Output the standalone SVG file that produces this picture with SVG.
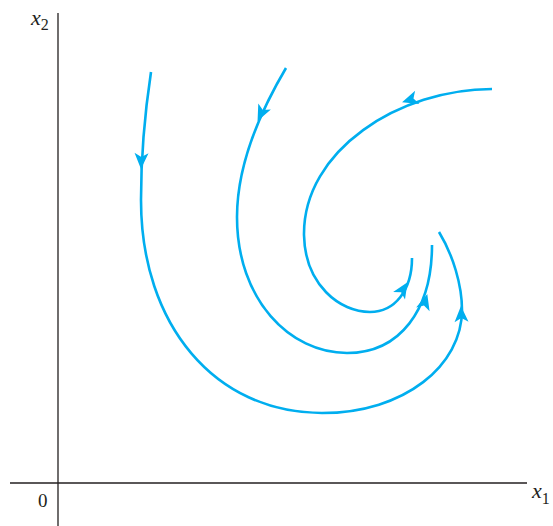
<svg xmlns="http://www.w3.org/2000/svg" width="553" height="526" viewBox="0 0 553 526">
<style>
.axis{stroke:#231f20;stroke-width:1.3;fill:none}
.traj{stroke:#00aeef;stroke-width:2.6;fill:none;stroke-linecap:butt}
.lab{font-family:"Liberation Serif",serif;fill:#231f20}
.it{font-style:italic;font-size:22px}
.sub{font-size:16px}
.head{fill:#00aeef}
</style>
<defs>
<path id="ah" d="M1,0 L-15,-7 L-11,0 L-15,7 Z"/>
</defs>
<g id="axes">
<line class="axis" x1="58" y1="13" x2="58" y2="526"/>
<line class="axis" x1="10" y1="483" x2="527" y2="483"/>
</g>
<g id="labels">
<text class="lab" x="31" y="25"><tspan class="it">x</tspan><tspan class="sub" dy="5">2</tspan></text>
<text class="lab" x="38" y="507" font-size="19">0</text>
<text class="lab" x="532" y="498"><tspan class="it">x</tspan><tspan class="sub" dy="6">1</tspan></text>
</g>
<g id="connectors">
<path id="outer" class="traj" d="M151,72 C146,105 141,150 141,200 C141,325 215,413 322,413 C405,413 462,365 462,310 C462,285 453,255 439,232"/>
<path id="middle" class="traj" d="M286,68 C260,112 237,165 237,217 C237,300 290,353 347,353 C400,353 432,310 432,245"/>
<path id="inner" class="traj" d="M492,89 C400,89 303,150 304,235 C305,285 340,312 370,312 C395,312 412,290 412,258"/>
<use href="#ah" class="head" transform="translate(141,168) rotate(92)"/>
<use href="#ah" class="head" transform="translate(258,120) rotate(116)"/>
<use href="#ah" class="head" transform="translate(403,102) rotate(162)"/>
<use href="#ah" class="head" transform="translate(407,283) rotate(-58)"/>
<use href="#ah" class="head" transform="translate(427,295) rotate(-74)"/>
<use href="#ah" class="head" transform="translate(461,307) rotate(-92)"/>
</g>
</svg>
